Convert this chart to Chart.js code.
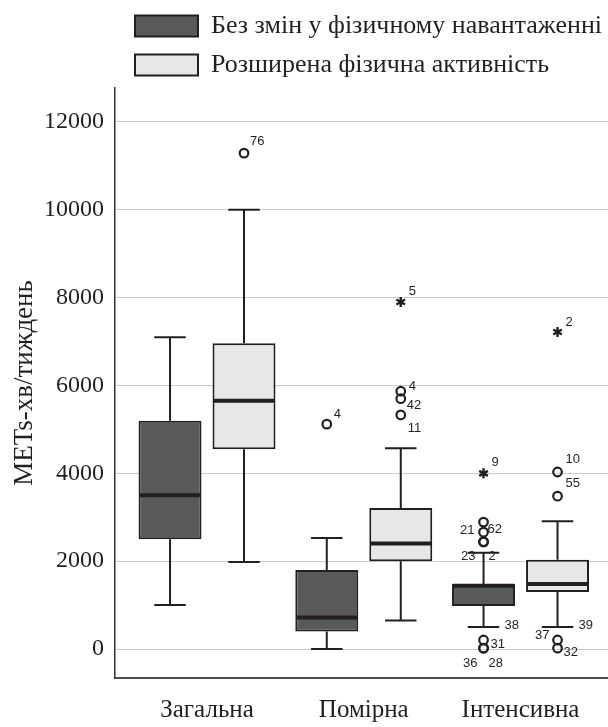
<!DOCTYPE html>
<html><head><meta charset="utf-8">
<script src="https://cdn.jsdelivr.net/npm/chart.js@4.4.1/dist/chart.umd.min.js"></script>
<style>html,body{margin:0;padding:0;background:#fff;}</style>
</head><body>
<canvas id="c" width="608" height="727"></canvas>
<script>
const categories = ['Загальна', 'Помірна', 'Інтенсивна'];
const seriesNames = ['Без змін у фізичному навантаженні', 'Розширена фізична активність'];
const yTicks = [0, 2000, 4000, 6000, 8000, 10000, 12000];
const yTitle = 'METs-хв/тиждень';

const baseMin = [1000, 0, 500];
const baseQ1 = [2500, 400, 980];
const baseMedian = [3500, 720, 1440];
const baseQ3 = [5200, 1800, 1480];
const baseMax = [7100, 2530, 2190];

const extMin = [1980, 650, 500];
const extQ1 = [4550, 2000, 1300];
const extMedian = [5650, 2400, 1480];
const extQ3 = [6960, 3210, 2030];
const extMax = [10000, 4570, 2910];

// [value, case id, kind]  kind: 'o' outlier, '*' extreme, '' label only
const baseOutliers = [
  [],
  [[5120, '4', 'o']],
  [[4000, '9', '*'], [2890, '21', 'o'], [2660, '62', 'o'], [2440, '23', 'o'], [2440, '2', 'o'], [500, '38', ''], [205, '31', 'o'], [20, '36', 'o'], [20, '28', 'o']]
];
const extOutliers = [
  [[11290, '76', 'o']],
  [[7900, '5', '*'], [5870, '4', 'o'], [5700, '42', 'o'], [5330, '11', 'o']],
  [[7220, '2', '*'], [4030, '10', 'o'], [3480, '55', 'o'], [500, '39', ''], [205, '37', 'o'], [20, '32', 'o']]
];

// label placement styles: [dx, dy, align]
const labelPlacement = {
  '1-0-76': [6, -12, 'left'],
  '0-1-4': [7, -10, 'left'],
  '1-1-5': [8, -11, 'left'],
  '1-1-4': [8, -5, 'left'],
  '1-1-42': [6, 7, 'left'],
  '1-1-11': [7, 13, 'left'],
  '0-2-9': [8, -11, 'left'],
  '0-2-21': [-9, 8, 'right'],
  '0-2-62': [4, -3, 'left'],
  '0-2-23': [-8, 15, 'right'],
  '0-2-2': [5, 15, 'left'],
  '0-2-38': [21, -2, 'left'],
  '0-2-31': [7, 4, 'left'],
  '0-2-36': [-6, 15, 'right'],
  '0-2-28': [5, 15, 'left'],
  '1-2-2': [8, -10, 'left'],
  '1-2-10': [8, -13, 'left'],
  '1-2-55': [8, -13, 'left'],
  '1-2-39': [21, -2, 'left'],
  '1-2-37': [-8, -5, 'right'],
  '1-2-32': [6, 4, 'left']
};

const INK = '#231f20';
const SERIF = "'Liberation Serif', 'Times New Roman', serif";
const SANS = "'Liberation Sans', Arial, sans-serif";

const stats = [
  {min: baseMin, q1: baseQ1, med: baseMedian, q3: baseQ3, max: baseMax, out: baseOutliers},
  {min: extMin, q1: extQ1, med: extMedian, q3: extQ3, max: extMax, out: extOutliers}
];

const boxPlugin = {
  id: 'boxParts',
  afterLayout(chart) {
    const lg = chart.legend;
    if (lg) lg.left = 135 - lg.options.labels.padding;
  },
  afterDatasetsDraw(chart) {
    const ctx = chart.ctx;
    const ys = chart.scales.y;
    chart.data.datasets.forEach((ds, di) => {
      const st = stats[di];
      const meta = chart.getDatasetMeta(di);
      meta.data.forEach((bar, i) => {
        const x = bar.x, w = bar.width;
        const cap = w / 2;
        const py = v => ys.getPixelForValue(v);
        ctx.save();
        ctx.strokeStyle = INK;
        ctx.lineWidth = 2;
        ctx.beginPath();
        ctx.moveTo(x, py(st.q3[i])); ctx.lineTo(x, py(st.max[i]));
        ctx.moveTo(x, py(st.q1[i])); ctx.lineTo(x, py(st.min[i]));
        ctx.moveTo(x - cap / 2, py(st.max[i])); ctx.lineTo(x + cap / 2, py(st.max[i]));
        ctx.moveTo(x - cap / 2, py(st.min[i])); ctx.lineTo(x + cap / 2, py(st.min[i]));
        ctx.stroke();
        // median
        ctx.lineWidth = 4;
        ctx.beginPath();
        ctx.moveTo(x - w / 2 + 1, py(st.med[i]));
        ctx.lineTo(x + w / 2 - 1, py(st.med[i]));
        ctx.stroke();
        // outliers
        st.out[i].forEach(o => {
          const [v, id, kind] = o;
          const yy = py(v);
          ctx.strokeStyle = INK;
          if (kind === 'o') {
            ctx.lineWidth = 2.2;
            ctx.beginPath();
            ctx.arc(x, yy, 4.3, 0, Math.PI * 2);
            ctx.stroke();
          } else if (kind === '*') {
            ctx.lineWidth = 2.4;
            ctx.beginPath();
            for (let k = 0; k < 3; k++) {
              const a = Math.PI / 2 + k * Math.PI / 3;
              ctx.moveTo(x + 5 * Math.cos(a), yy + 5 * Math.sin(a));
              ctx.lineTo(x - 5 * Math.cos(a), yy - 5 * Math.sin(a));
            }
            ctx.stroke();
          }
          const pl = labelPlacement[di + '-' + i + '-' + id];
          if (pl) {
            ctx.fillStyle = INK;
            ctx.font = '13px ' + SANS;
            ctx.textAlign = pl[2];
            ctx.textBaseline = 'middle';
            ctx.fillText(id, x + pl[0], yy + pl[1]);
          }
        });
        ctx.restore();
      });
    });
  }
};

new Chart(document.getElementById('c'), {
  type: 'bar',
  data: {
    datasets: [
      {
        label: seriesNames[0],
        data: categories.map((c, i) => ({x: i + 1, y: [baseQ1[i], baseQ3[i]]})),
        backgroundColor: '#58595b',
        borderColor: INK,
        borderWidth: 2,
        borderSkipped: false,
        barPercentage: 0.851,
        categoryPercentage: 0.944
      },
      {
        label: seriesNames[1],
        data: categories.map((c, i) => ({x: i + 1, y: [extQ1[i], extQ3[i]]})),
        backgroundColor: '#e6e7e8',
        borderColor: INK,
        borderWidth: 2,
        borderSkipped: false,
        barPercentage: 0.851,
        categoryPercentage: 0.944
      }
    ]
  },
  options: {
    responsive: false,
    animation: false,
    devicePixelRatio: 1,
    layout: {padding: 0},
    plugins: {
      tooltip: {enabled: false},
      legend: {
        position: 'top',
        align: 'start',
        labels: {
          boxWidth: 63,
          boxHeight: 21,
          padding: 13,
          color: INK,
          font: {family: SERIF, size: 26}
        }
      }
    },
    scales: {
      x: {
        type: 'linear',
        offset: false,
        min: 0.413,
        max: 3.558,
        afterBuildTicks: s => { s.ticks = categories.map((c, i) => ({value: i + 1})); },
        afterFit: s => { s.height = 49; },
        grid: {display: false, drawTicks: false, offset: false},
        border: {display: true, color: '#4d4d4d', width: 2},
        ticks: {
          padding: 17,
          color: INK,
          font: {family: SERIF, size: 25},
          callback: v => categories[Math.round(v) - 1] || ''
        }
      },
      y: {
        type: 'linear',
        min: -660,
        max: 12774,
        afterBuildTicks: s => { s.ticks = yTicks.map(v => ({value: v})); },
        afterFit: s => { s.width = 115; },
        grid: {color: '#cccccc', lineWidth: 1, drawTicks: false},
        border: {display: true, color: '#333333', width: 1.5},
        ticks: {
          padding: 11,
          color: INK,
          font: {family: SERIF, size: 24},
          callback: v => String(v)
        },
        title: {
          display: true,
          text: yTitle,
          color: INK,
          font: {family: SERIF, size: 27},
          padding: {top: 9, bottom: 0}
        }
      }
    }
  },
  plugins: [boxPlugin]
});
</script>
</body></html>
